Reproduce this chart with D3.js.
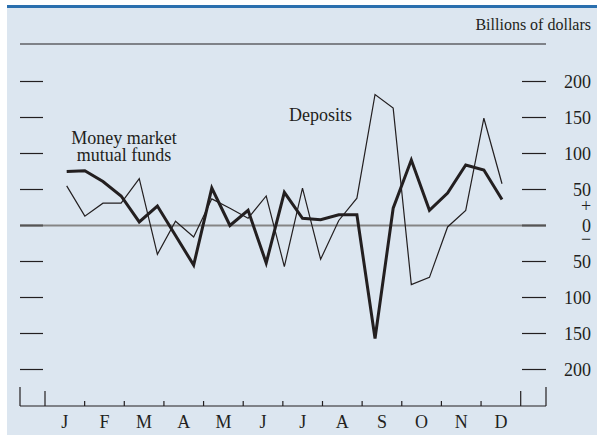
<!DOCTYPE html>
<html>
<head>
<meta charset="utf-8">
<script src="https://cdn.jsdelivr.net/npm/d3@7"></script>
<style>
  body { margin: 0; background: #fff; }
  svg { display: block; }
</style>
</head>
<body>
<div id="chart"></div>
<script>
// Biweekly flows, billions of dollars
const periods = ['1','2','3','4','5','6','7','8','9','10','11','12','13','14','15','16','17','18','19','20','21','22','23','24','25']
const deposits = [55, 13, 31, 31, 65, -40, 6, -16, 37, 24, 10, 41, -57, 52, -47, 7, 38, 182, 163, -82, -72, -2, 21, 149, 58]
const mmmf = [75, 76, 61, 41, 5, 27, -14, -55, 52, 0, 21, -52, 46, 10, 8, 15, 15, -157, 24, 91, 21, 45, 84, 77, 36]
const months = ['J', 'F', 'M', 'A', 'M', 'J', 'J', 'A', 'S', 'O', 'N', 'D']
const yTicks = [200, 150, 100, 50, -50, -100, -150, -200]

const width = 597
const height = 435
const ink = '#231f20'
const font = '"Liberation Serif", "Times New Roman", serif'

const svg = d3.select('#chart').append('svg')
  .attr('width', width)
  .attr('height', height)
  .style('font-family', font)

// Panel background and top rule
svg.append('rect').attr('x', 7).attr('y', 7).attr('width', width - 7).attr('height', height - 7).attr('fill', '#dce6f0')
svg.append('rect').attr('x', 7).attr('y', 5).attr('width', width - 7).attr('height', 3).attr('fill', '#2a6fae')

const xLeft = 20
const xRight = 546

const y = d3.scaleLinear().domain([-200, 200]).range([369.5, 81.5])
const xMonth = d3.scaleLinear().domain([0, 12]).range([45, 520.7])
const x = d3.scalePoint().domain(periods).range([66.7, 502])

// top line
svg.append('line')
  .attr('x1', xLeft).attr('x2', xRight)
  .attr('y1', 44).attr('y2', 44)
  .attr('stroke', ink).attr('stroke-width', 1.2)

svg.append('text')
  .attr('x', 591).attr('y', 30)
  .attr('text-anchor', 'end')
  .attr('font-size', 16)
  .attr('fill', ink)
  .text('Billions of dollars')

// zero line
svg.append('line')
  .attr('x1', xLeft).attr('x2', xRight)
  .attr('y1', y(0)).attr('y2', y(0))
  .attr('stroke', '#858585').attr('stroke-width', 2)

// y ticks on both sides
const gTicks = svg.append('g')
yTicks.concat([0]).forEach(v => {
  gTicks.append('line').attr('x1', xLeft).attr('x2', 43).attr('y1', y(v)).attr('y2', y(v))
    .attr('stroke', v === 0 ? '#555' : ink).attr('stroke-width', v === 0 ? 2 : 1.2)
  gTicks.append('line').attr('x1', 522).attr('x2', xRight).attr('y1', y(v)).attr('y2', y(v))
    .attr('stroke', v === 0 ? '#555' : ink).attr('stroke-width', v === 0 ? 2 : 1.2)
})

const gLabels = svg.append('g')
  .attr('font-size', 18)
  .attr('fill', ink)
  .attr('text-anchor', 'end')

yTicks.forEach(v => {
  gLabels.append('text').attr('x', 591).attr('y', y(v) + 6).text(Math.abs(v))
})
gLabels.append('text').attr('x', 591).attr('y', y(0) + 6).text('0')
gLabels.append('text').attr('x', 586).attr('y', y(0) - 14).attr('text-anchor', 'middle').text('+')
gLabels.append('text').attr('x', 586).attr('y', y(0) + 19).attr('text-anchor', 'middle').text('\u2212')

// x axis
const xBase = 406
const gX = svg.append('g').attr('stroke', ink).attr('stroke-width', 1.2)
gX.append('line').attr('x1', xLeft).attr('x2', xRight).attr('y1', xBase).attr('y2', xBase)
gX.append('line').attr('x1', xLeft).attr('x2', xLeft).attr('y1', 387).attr('y2', xBase)
gX.append('line').attr('x1', xRight).attr('x2', xRight).attr('y1', 387).attr('y2', xBase)
d3.range(0, 13).forEach(m => {
  const tall = m === 0 || m === 12
  gX.append('line')
    .attr('x1', xMonth(m)).attr('x2', xMonth(m))
    .attr('y1', tall ? 391 : 401).attr('y2', xBase)
})

svg.append('g')
  .attr('font-size', 18)
  .attr('fill', ink)
  .attr('text-anchor', 'middle')
  .selectAll('text')
  .data(months)
  .join('text')
  .attr('x', (d, i) => xMonth(i + 0.5))
  .attr('y', 428)
  .text(d => d)

// series
const line = d3.line()
  .x((d, i) => x(periods[i]))
  .y(d => y(d))

svg.append('path')
  .datum(deposits)
  .attr('d', line)
  .attr('fill', 'none')
  .attr('stroke', ink)
  .attr('stroke-width', 1.2)
  .attr('stroke-linejoin', 'miter')

svg.append('path')
  .datum(mmmf)
  .attr('d', line)
  .attr('fill', 'none')
  .attr('stroke', ink)
  .attr('stroke-width', 3)
  .attr('stroke-linejoin', 'miter')

// series labels
const gNames = svg.append('g').attr('font-size', 18).attr('fill', ink)
gNames.append('text').attr('x', 124).attr('y', 144).attr('text-anchor', 'middle').text('Money market')
gNames.append('text').attr('x', 124).attr('y', 161).attr('text-anchor', 'middle').text('mutual funds')
gNames.append('text').attr('x', 289).attr('y', 121).text('Deposits')
</script>
</body>
</html>
